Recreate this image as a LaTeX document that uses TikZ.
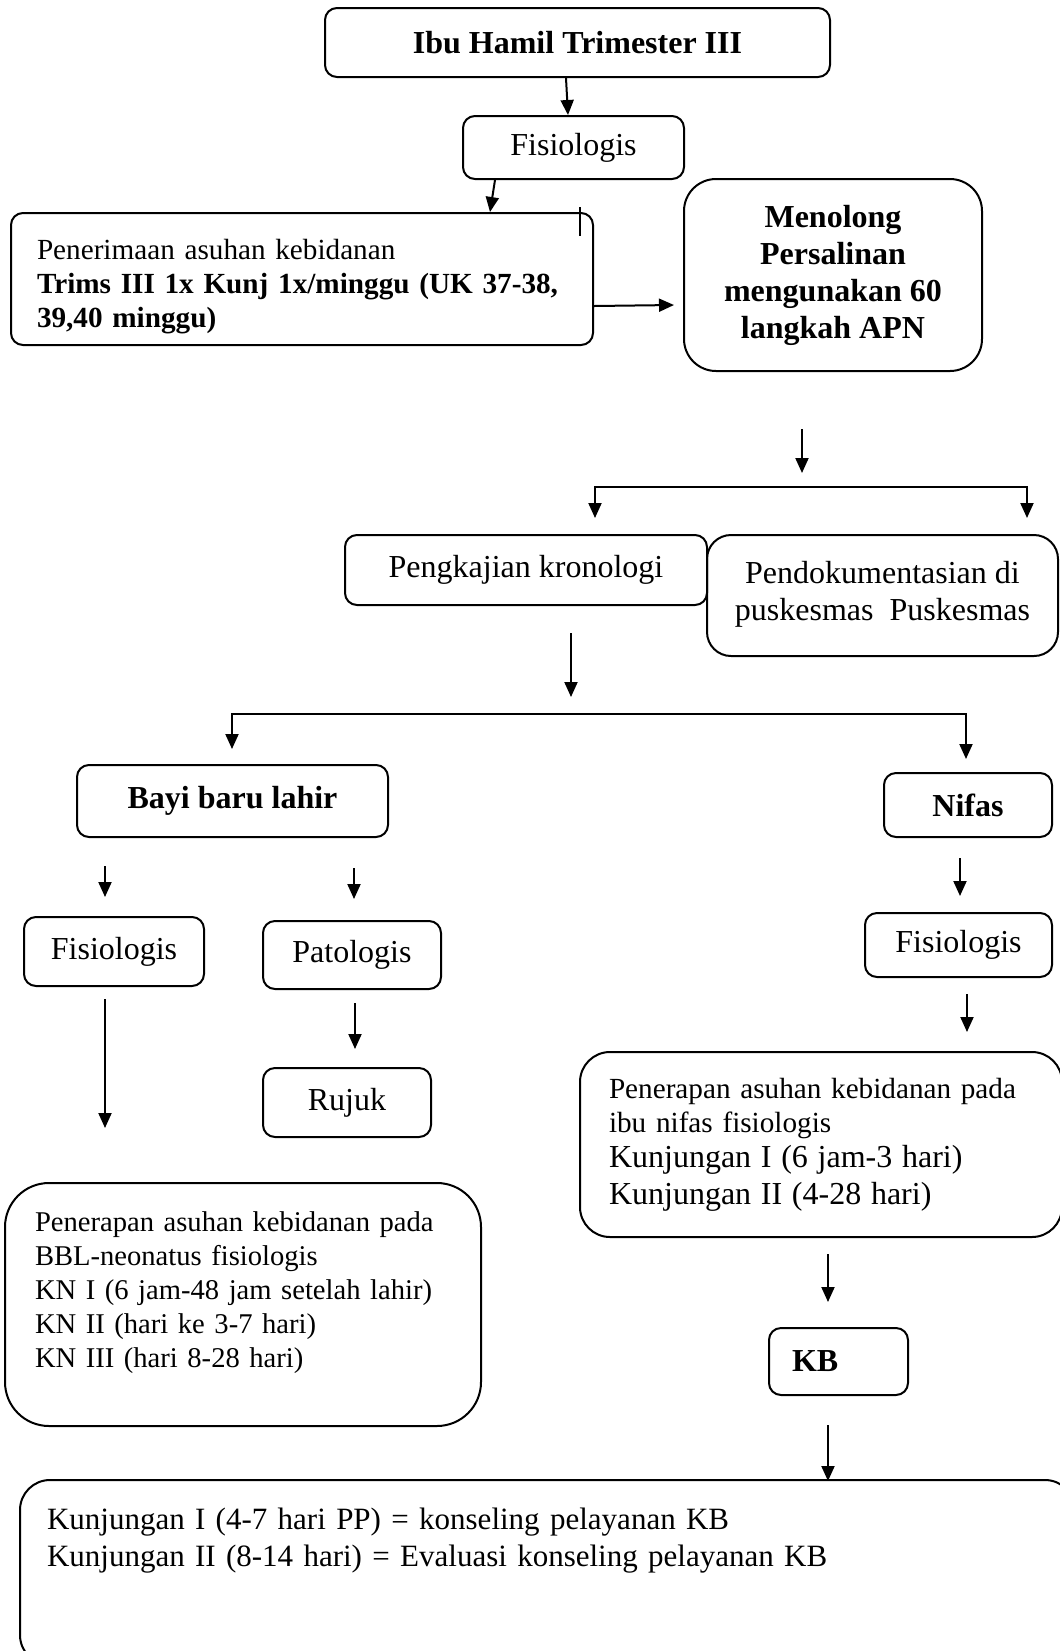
\documentclass[tikz,border=0pt]{standalone}
\usepackage{fontspec}
\setmainfont{Liberation Serif}
\usetikzlibrary{arrows.meta, calc}
\tikzset{box/.style = {draw, line width=1pt, rounded corners=6pt, inner sep=0pt, align=center, font=\fontsize{16}{18.5}\selectfont}}
\tikzset{boldbox/.style = {box, font=\fontsize{16}{18.5}\selectfont\bfseries}}
\tikzset{leftbox/.style = {box, align=left, font=\fontsize{14.6}{17}\selectfont}}
\tikzset{arr/.style = {line width=1pt, -{Triangle[length=7.5pt, width=6.5pt]}}}
\tikzset{fork/.style = {line width=1pt, {Triangle[length=7.5pt, width=6.5pt]}-{Triangle[length=7.5pt, width=6.5pt]}}}

\begin{document}
\begin{tikzpicture}[x=0.5pt, y=-0.5pt]
\clip (0,0) rectangle (1060,1651);
% top part
\node [boldbox, minimum width=252.5pt, minimum height=34.5pt] (ibu) at (577.5,42.5) {Ibu Hamil Trimester III};
\node [box, minimum width=110.5pt, minimum height=31.5pt] (fis1) at (573.5,147.5) {Fisiologis};
\node [leftbox, text width=265pt, inner xsep=13pt, minimum height=66pt] (terima) at (302,279)
  {\rule{0pt}{18pt}Penerimaan asuhan kebidanan\\ \textbf{Trims III 1x Kunj 1x/minggu (UK 37-38,}\\ \textbf{39,40 minggu)}};
\node [boldbox, rounded corners=16pt, minimum width=149pt, minimum height=96pt] (menolong) at (833,275)
  {Menolong\\ Persalinan\\ mengunakan 60\\ langkah APN};
\draw [arr] ([xshift=-5.75pt]ibu.south) -- ([xshift=-2.75pt]fis1.north);
\draw [arr] ([xshift=-39.25pt]fis1.south) -- ([xshift=94pt]terima.north);
\draw [line width=0.75pt] ([xshift=-7pt, yshift=2.5pt]terima.north east) -- ++(0,29);
\draw [arr] ([yshift=-13.5pt]terima.east) -- ([xshift=-4.5pt, yshift=-15pt]menolong.west);
% first fork
\coordinate (f1a) at (595,518);
\coordinate (f1b) at (1027,518);
\coordinate (m1) at (802,473);
\draw [arr] ([xshift=-15.5pt, yshift=-28.5pt]menolong.south) -- (m1);
\draw [fork] (f1a) -- (595,487) -- (1027,487) -- (f1b);
\node [box, minimum width=181pt, minimum height=35pt] (pengkajian) at (526,570) {Pengkajian kronologi};
\node [box, rounded corners=12pt, minimum width=175.5pt, minimum height=60.5pt] (dokumen) at (882.5,595.5)
  {Pendokumentasian di\\ puskesmas\ \ Puskesmas\rule[-4.5pt]{0pt}{1pt}};
% second fork
\coordinate (p1) at (571,697);
\coordinate (f2a) at (232,749);
\coordinate (f2b) at (966,759);
\draw [arr] ([xshift=22.5pt, yshift=-13.5pt]pengkajian.south) -- (p1);
\draw [fork] (f2a) -- (232,714) -- (966,714) -- (f2b);
% bayi baru lahir
\node [boldbox, minimum width=155.5pt, minimum height=36pt] (bayi) at (232.5,801) {Bayi baru lahir};
\node [box, minimum width=90pt, minimum height=34.5pt] (fisbayi) at (114,951.5) {Fisiologis};
\node [box, minimum width=89pt, minimum height=34pt] (patologis) at (352,955) {Patologis};
\node [box, minimum width=84pt, minimum height=34.5pt] (rujuk) at (347,1102.5) {Rujuk};
\node [leftbox, rounded corners=22pt, text width=208pt, inner xsep=15pt, minimum height=121.5pt, font=\fontsize{14.3}{17}\selectfont] (bbl) at (243,1304.5)
  {Penerapan asuhan kebidanan pada\\ BBL-neonatus fisiologis\\ KN I (6 jam-48 jam setelah lahir)\\ KN II (hari ke 3-7 hari)\\ KN III (hari 8-28 hari)\rule[-14.5pt]{0pt}{1pt}};
\draw [arr] ([xshift=-63.75pt, yshift=-14pt]bayi.south) -- ([xshift=-4.5pt, yshift=9.5pt]fisbayi.north);
\draw [arr] ([xshift=60.75pt, yshift=-15pt]bayi.south) -- ([xshift=1pt, yshift=10.5pt]patologis.north);
\draw [arr] ([xshift=1.5pt, yshift=-6.5pt]patologis.south) -- ([xshift=4pt, yshift=9pt]rujuk.north);
\draw [arr] ([xshift=-4.5pt, yshift=-6pt]fisbayi.south) -- ([xshift=-69pt, yshift=27pt]bbl.north);
% nifas
\node [boldbox, minimum width=84pt, minimum height=32pt] (nifas) at (968,805) {Nifas};
\node [box, minimum width=93.5pt, minimum height=32pt] (fisnifas) at (958.5,945) {Fisiologis};
\node [leftbox, rounded corners=15pt, text width=212pt, inner xsep=14.5pt, minimum height=92.5pt] (asuhnifas) at (821,1144.5)
  {Penerapan asuhan kebidanan pada\\ ibu nifas fisiologis\\[0.5pt]
   {\fontsize{16}{17}\selectfont Kunjungan I (6 jam-3 hari)}\\[1.5pt]
   {\fontsize{16}{17}\selectfont Kunjungan II (4-28 hari)}};
\node [boldbox, align=left, text width=46.5pt, inner xsep=11.5pt, minimum height=33.5pt] (kb) at (838.5,1361.5) {KB};
\node [box, align=left, rounded corners=15pt, text width=500.5pt, inner xsep=13.5pt, minimum height=92.5pt, font=\fontsize{15.5}{18.5}\selectfont] (kunjungan) at (547.5,1572.5)
  {Kunjungan I (4-7 hari PP) = konseling pelayanan KB\\ Kunjungan II (8-14 hari) = Evaluasi konseling pelayanan KB\rule[-35pt]{0pt}{1pt}};
\draw [arr] ([xshift=-4pt, yshift=-10pt]nifas.south) -- ([xshift=0.75pt, yshift=8pt]fisnifas.north);
\draw [arr] ([xshift=4.25pt, yshift=-8pt]fisnifas.south) -- ([xshift=73pt, yshift=9.5pt]asuhnifas.north);
\draw [arr] ([xshift=3.5pt, yshift=-8pt]asuhnifas.south) -- ([xshift=-5.25pt, yshift=12.5pt]kb.north);
\draw [arr] ([xshift=-5.25pt, yshift=-14.5pt]kb.south) -- ([xshift=140.25pt, yshift=-1pt]kunjungan.north);
\end{tikzpicture}
\end{document}
